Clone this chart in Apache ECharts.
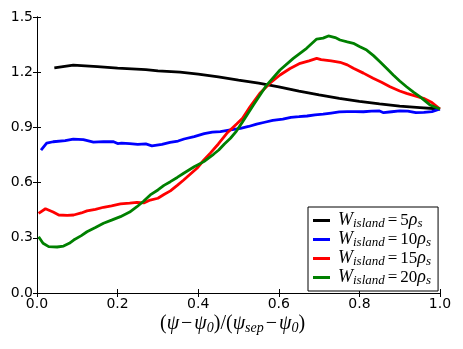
<!DOCTYPE html>
<html>
<head>
<meta charset="utf-8">
<script src="https://cdn.jsdelivr.net/npm/echarts@6/dist/echarts.min.js"></script>
<style>
  html, body { margin: 0; padding: 0; background: #fff; }
</style>
</head>
<body>
<div id="main" style="width:463px;height:349px;"></div>
<script>
// island widths shown in the legend
var widths = [5, 10, 15, 20]
var colors = ['#000000', '#0000ff', '#ff0000', '#008000']

var xTicks = ['0.0', '0.2', '0.4', '0.6', '0.8', '1.0']
var yTicks = ['0.0', '0.3', '0.6', '0.9', '1.2', '1.5']

// W = 5
var x5 = [0.043, 0.09, 0.15, 0.2, 0.27, 0.3, 0.355, 0.4, 0.45, 0.5, 0.55, 0.6, 0.65, 0.7, 0.75, 0.8, 0.85, 0.9, 0.95, 1.0]
var y5 = [1.224, 1.238, 1.230, 1.222, 1.214, 1.207, 1.200, 1.190, 1.175, 1.157, 1.140, 1.120, 1.097, 1.077, 1.058, 1.042, 1.028, 1.016, 1.008, 1.0]

// W = 10
var x10 = [0.01, 0.024, 0.04, 0.07, 0.09, 0.115, 0.14, 0.165, 0.19, 0.2, 0.21, 0.23, 0.25, 0.27, 0.285, 0.31, 0.33, 0.35, 0.365, 0.39, 0.415, 0.435, 0.455, 0.48, 0.505, 0.525, 0.545, 0.565, 0.585, 0.61, 0.63, 0.65, 0.67, 0.69, 0.71, 0.73, 0.75, 0.77, 0.79, 0.81, 0.83, 0.85, 0.86, 0.88, 0.9, 0.92, 0.94, 0.96, 0.98, 1.0]
var y10 = [0.777, 0.815, 0.822, 0.828, 0.836, 0.834, 0.820, 0.823, 0.822, 0.812, 0.815, 0.812, 0.808, 0.810, 0.800, 0.808, 0.818, 0.826, 0.837, 0.850, 0.866, 0.874, 0.877, 0.886, 0.895, 0.905, 0.918, 0.928, 0.938, 0.945, 0.955, 0.958, 0.962, 0.968, 0.972, 0.978, 0.984, 0.986, 0.986, 0.985, 0.988, 0.989, 0.980, 0.985, 0.990, 0.988, 0.980, 0.982, 0.986, 1.0]

// W = 15
var x15 = [0.004, 0.021, 0.04, 0.054, 0.075, 0.091, 0.11, 0.124, 0.145, 0.165, 0.185, 0.207, 0.23, 0.248, 0.265, 0.281, 0.3, 0.315, 0.331, 0.348, 0.364, 0.38, 0.397, 0.413, 0.43, 0.45, 0.471, 0.496, 0.51, 0.529, 0.553, 0.578, 0.603, 0.628, 0.653, 0.675, 0.694, 0.705, 0.715, 0.73, 0.752, 0.77, 0.785, 0.81, 0.834, 0.855, 0.876, 0.9, 0.917, 0.94, 0.959, 0.98, 1.0]
var y15 = [0.433, 0.458, 0.440, 0.424, 0.422, 0.424, 0.435, 0.446, 0.455, 0.466, 0.474, 0.484, 0.488, 0.493, 0.490, 0.505, 0.515, 0.535, 0.555, 0.585, 0.614, 0.645, 0.678, 0.720, 0.760, 0.810, 0.868, 0.920, 0.950, 1.013, 1.085, 1.140, 1.185, 1.220, 1.248, 1.262, 1.275, 1.268, 1.266, 1.262, 1.254, 1.240, 1.221, 1.195, 1.167, 1.145, 1.121, 1.098, 1.085, 1.070, 1.058, 1.035, 1.0]

// W = 20
var x20 = [0.004, 0.015, 0.029, 0.05, 0.066, 0.08, 0.091, 0.11, 0.124, 0.145, 0.165, 0.185, 0.207, 0.23, 0.248, 0.265, 0.281, 0.3, 0.315, 0.331, 0.348, 0.364, 0.39, 0.414, 0.438, 0.451, 0.465, 0.48, 0.495, 0.51, 0.537, 0.57, 0.603, 0.636, 0.669, 0.694, 0.71, 0.723, 0.74, 0.752, 0.77, 0.785, 0.8, 0.818, 0.835, 0.851, 0.868, 0.884, 0.9, 0.917, 0.935, 0.95, 0.975, 1.0]
var y20 = [0.306, 0.270, 0.252, 0.250, 0.255, 0.270, 0.288, 0.312, 0.333, 0.356, 0.379, 0.396, 0.415, 0.440, 0.469, 0.500, 0.533, 0.560, 0.585, 0.605, 0.628, 0.651, 0.686, 0.714, 0.754, 0.777, 0.810, 0.841, 0.880, 0.930, 1.022, 1.130, 1.212, 1.275, 1.330, 1.380, 1.385, 1.397, 1.388, 1.375, 1.365, 1.357, 1.340, 1.320, 1.290, 1.257, 1.220, 1.185, 1.152, 1.121, 1.090, 1.067, 1.022, 1.0]

var xs = [x5, x10, x15, x20]
var ys = [y5, y10, y15, y20]

var zip = (a, b) => a.map((v, i) => [v, b[i]])

var serif = 'Liberation Serif'
var tickFont = { fontFamily: 'DejaVu Sans', fontSize: 14, color: '#000' }

var myChart = echarts.init(document.getElementById('main'))

var axisCommon = {
  axisLine: { show: true, lineStyle: { color: '#000', width: 1 } },
  axisTick: { show: true, inside: true, length: 4, lineStyle: { color: '#000' } },
  splitLine: { show: false }
}

var option = {
  animation: false,
  backgroundColor: '#fff',
  grid: { left: 37, right: 23, top: 17, bottom: 56 },
  xAxis: [
    Object.assign({
      type: 'value', min: 0, max: 1, interval: 0.2, position: 'bottom',
      axisLabel: Object.assign({ margin: 4, formatter: v => xTicks[Math.round(v / 0.2)], showMinLabel: true, showMaxLabel: true }, tickFont)
    }, axisCommon),
    Object.assign({
      type: 'value', min: 0, max: 1, interval: 0.2, position: 'top',
      axisLabel: { show: false }
    }, axisCommon)
  ],
  yAxis: [
    Object.assign({
      type: 'value', min: 0, max: 1.5, interval: 0.3, position: 'left',
      axisLabel: Object.assign({ margin: 4, formatter: v => yTicks[Math.round(v / 0.3)] }, tickFont)
    }, axisCommon),
    Object.assign({
      type: 'value', min: 0, max: 1.5, interval: 0.3, position: 'right',
      axisLabel: { show: false }
    }, axisCommon)
  ],
  legend: {
    orient: 'vertical',
    left: 308,
    top: 207,
    padding: [4, 7, 4, 5],
    itemGap: 0,
    itemWidth: 17,
    itemHeight: 3,
    icon: 'rect',
    borderColor: '#000',
    borderWidth: 1,
    borderRadius: 0,
    backgroundColor: '#fff',
    data: widths.map(w => 'W' + w),
    formatter: name => '{w|W}{sub|island}{sp|\u00a0}{eq|=}{sp|\u00a0}{eq|' + name.slice(1) + '}{r|ρ}{sub|s}',
    textStyle: {
      color: '#000',
      rich: {
        w: { fontFamily: serif, fontStyle: 'italic', fontSize: 18, lineHeight: 18, color: '#000', padding: [0, 0, 0, 3] },
        r: { fontFamily: serif, fontStyle: 'italic', fontSize: 18, lineHeight: 18, color: '#000' },
        sub: { fontFamily: serif, fontStyle: 'italic', fontSize: 13, lineHeight: 12, color: '#000', padding: [6, 0, 0, 0] },
        sp: { fontSize: 10, lineHeight: 5, width: 3 },
        eq: { fontFamily: serif, fontSize: 17, lineHeight: 18, color: '#000' }
      }
    }
  },
  graphic: [
    {
      type: 'text',
      left: 160,
      top: 314,
      style: {
        text: '{p|(}{w|ψ}{sp|\u00a0}{p|−}{sp|\u00a0}{w|ψ}{sub|0}{p|)/(}{w|ψ}{sub|sep}{sp|\u00a0}{p|−}{sp|\u00a0}{w|ψ}{sub|0}{p|)}',
        fill: '#000',
        rich: {
          p: { fontFamily: serif, fontSize: 20, fill: '#000' },
          w: { fontFamily: serif, fontStyle: 'italic', fontSize: 20, fill: '#000' },
          sp: { fontSize: 10, width: 2 },
          sub: { fontFamily: serif, fontStyle: 'italic', fontSize: 14, fill: '#000', padding: [9, 0, 0, 0] }
        }
      }
    }
  ],
  series: widths.map((w, i) => ({
    name: 'W' + w,
    type: 'line',
    data: zip(xs[i], ys[i]),
    showSymbol: false,
    symbol: 'none',
    lineStyle: { color: colors[i], width: 2.8 },
    itemStyle: { color: colors[i] },
    z: 2 + i
  }))
}

myChart.setOption(option)
window.addEventListener('resize', () => {
  myChart.resize()
})
</script>
</body>
</html>
